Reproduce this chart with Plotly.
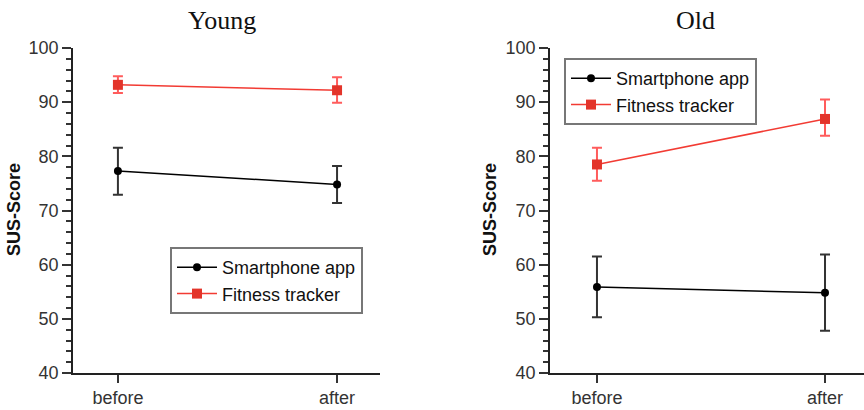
import plotly.graph_objects as go

categories = ["before", "after"]
series_names = ["Smartphone app", "Fitness tracker"]

young_smartphone = [77.3, 74.8]
young_smartphone_err_plus = [4.3, 3.4]
young_smartphone_err_minus = [4.4, 3.4]
young_fitness = [93.2, 92.2]
young_fitness_err_plus = [1.6, 2.4]
young_fitness_err_minus = [1.5, 2.3]

old_smartphone = [55.9, 54.8]
old_smartphone_err_plus = [5.6, 7.1]
old_smartphone_err_minus = [5.6, 7.0]
old_fitness = [78.5, 86.9]
old_fitness_err_plus = [3.1, 3.6]
old_fitness_err_minus = [3.0, 3.1]

panel_titles = ["Young", "Old"]
y_title = "SUS-Score"

BLACK = "#000000"
RED_M = "#e3342a"
RED_L = "#f23b33"
RED_E = "#ff5c5c"

fig = go.Figure()

def add_panel(xa, ya, leg, sm, smp, smm, ft, ftp, ftm):
    fig.add_trace(go.Scatter(
        x=categories, y=sm, name=series_names[0], mode="lines+markers",
        xaxis=xa, yaxis=ya, legend=leg,
        line=dict(color=BLACK, width=1.5),
        marker=dict(symbol="circle", size=8, color=BLACK),
        error_y=dict(type="data", array=smp, arrayminus=smm, symmetric=False,
                     color="#333333", thickness=2, width=5),
    ))
    fig.add_trace(go.Scatter(
        x=categories, y=ft, name=series_names[1], mode="lines+markers",
        xaxis=xa, yaxis=ya, legend=leg,
        line=dict(color=RED_L, width=1.5),
        marker=dict(symbol="square", size=10, color=RED_M),
        error_y=dict(type="data", array=ftp, arrayminus=ftm, symmetric=False,
                     color=RED_E, thickness=2, width=5),
    ))

add_panel("x", "y", "legend", young_smartphone, young_smartphone_err_plus, young_smartphone_err_minus,
          young_fitness, young_fitness_err_plus, young_fitness_err_minus)
add_panel("x2", "y2", "legend2", old_smartphone, old_smartphone_err_plus, old_smartphone_err_minus,
          old_fitness, old_fitness_err_plus, old_fitness_err_minus)

tickfont = dict(family="Liberation Sans, Arial, sans-serif", size=18, color="#333333")
ydom = [37/410, 362/410]

def xaxis(domain, rng, anchor):
    return dict(domain=domain, anchor=anchor, type="category", range=rng,
                showline=True, linecolor="#222222", linewidth=1.5,
                ticks="outside", ticklen=8, tickcolor="#333333", tickwidth=1.5,
                showgrid=False, zeroline=False, tickfont=tickfont, fixedrange=True,
                automargin=False)

def yaxis(anchor):
    return dict(domain=ydom, anchor=anchor, range=[40, 100], dtick=10,
                showline=True, linecolor="#222222", linewidth=1.5,
                ticks="outside", ticklen=9, tickcolor="#333333", tickwidth=1.5,
                minor=dict(dtick=2, ticks="outside", ticklen=5, tickcolor="#333333", tickwidth=1.5),
                showgrid=False, zeroline=False, tickfont=tickfont, automargin=False)

legfont = dict(family="Liberation Sans, Arial, sans-serif", size=18, color="#111111")

fig.update_layout(
    width=864, height=410,
    margin=dict(l=0, r=0, t=0, b=0, autoexpand=False),
    paper_bgcolor="white", plot_bgcolor="white",
    xaxis=xaxis([73/864, 380/864], [-0.205, 1.196], "y"),
    yaxis=yaxis("x"),
    xaxis2=xaxis([550/864, 1.0], [-0.206, 1.171], "y2"),
    yaxis2=yaxis("x2"),
    legend=dict(x=170/864, y=(410-247)/410, xanchor="left", yanchor="top",
                bordercolor="#777777", borderwidth=2, bgcolor="white", font=legfont,
                tracegroupgap=0, itemwidth=40),
    legend2=dict(x=564/864, y=(410-58)/410, xanchor="left", yanchor="top",
                 bordercolor="#777777", borderwidth=2, bgcolor="white", font=legfont,
                 tracegroupgap=0, itemwidth=40),
    showlegend=True,
    annotations=[
        dict(text=panel_titles[0], x=222/864, y=(410-20)/410, xref="paper", yref="paper",
             xanchor="center", yanchor="middle", showarrow=False,
             font=dict(family="Liberation Serif, Times New Roman, serif", size=26, color="#111111")),
        dict(text=panel_titles[1], x=695/864, y=(410-20)/410, xref="paper", yref="paper",
             xanchor="center", yanchor="middle", showarrow=False,
             font=dict(family="Liberation Serif, Times New Roman, serif", size=26, color="#111111")),
        dict(text="<b>" + y_title + "</b>", x=14/864, y=(410-210)/410, xref="paper", yref="paper",
             xanchor="center", yanchor="middle", showarrow=False, textangle=-90,
             font=dict(family="Liberation Sans, Arial, sans-serif", size=18, color="#111111")),
        dict(text="<b>" + y_title + "</b>", x=490/864, y=(410-210)/410, xref="paper", yref="paper",
             xanchor="center", yanchor="middle", showarrow=False, textangle=-90,
             font=dict(family="Liberation Sans, Arial, sans-serif", size=18, color="#111111")),
    ],
)

fig.write_html("out.html", config={"displayModeBar": False},
               post_script="document.body.style.margin='0px';document.body.style.overflow='hidden';")
